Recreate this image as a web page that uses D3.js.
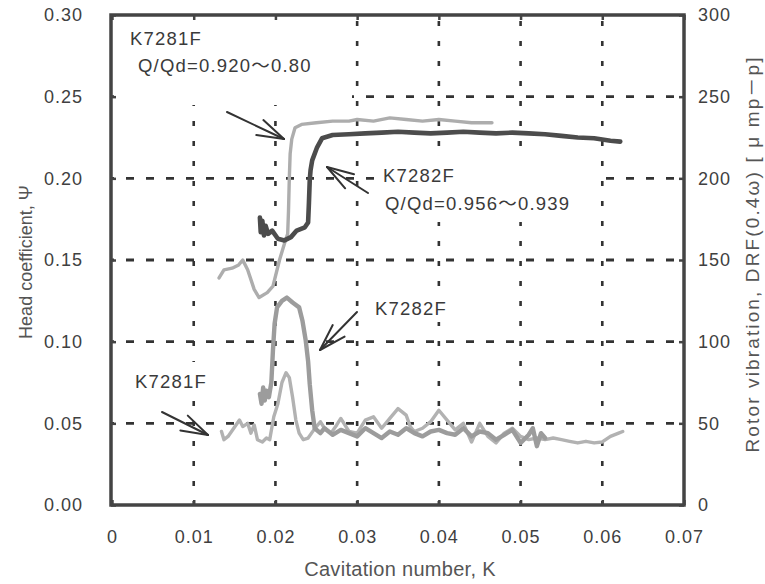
<!DOCTYPE html>
<html><head><meta charset="utf-8">
<script src="https://cdn.jsdelivr.net/npm/d3@7"></script>
<style>
html,body{margin:0;padding:0;background:#fff;}
svg{display:block;}
text{font-family:"Liberation Sans",Arial,"Noto Sans CJK JP",sans-serif;}
</style></head>
<body>
<svg id="chart" width="765" height="584"></svg>
<script>
// ---------- data ----------
const xTicks = [0, 0.01, 0.02, 0.03, 0.04, 0.05, 0.06, 0.07];
const xTickLabels = ["0", "0.01", "0.02", "0.03", "0.04", "0.05", "0.06", "0.07"];
const yLeftTicks = [0, 0.05, 0.10, 0.15, 0.20, 0.25, 0.30];
const yRightTicks = [0, 50, 100, 150, 200, 250, 300];

// Head coefficient psi vs cavitation number K
const headK7281F = [[0.0131,0.139],[0.0137,0.144],[0.0147,0.145],[0.0155,0.147],[0.0160,0.150],[0.0166,0.144],[0.0174,0.132],[0.0180,0.127],[0.0190,0.130],[0.0197,0.134],[0.0205,0.150],[0.0211,0.160],[0.0215,0.166],[0.0216,0.180],[0.0217,0.200],[0.0218,0.215],[0.0220,0.224],[0.0224,0.231],[0.0232,0.233],[0.0250,0.234],[0.0270,0.235],[0.0290,0.235],[0.0300,0.236],[0.0320,0.235],[0.0340,0.237],[0.0360,0.236],[0.0380,0.235],[0.0400,0.236],[0.0420,0.235],[0.0440,0.234],[0.0465,0.234]];
const headK7282F = [[0.0181,0.176],[0.0182,0.167],[0.0184,0.174],[0.0186,0.165],[0.0188,0.171],[0.0191,0.166],[0.0196,0.168],[0.0203,0.163],[0.0211,0.162],[0.0219,0.164],[0.0226,0.168],[0.0236,0.170],[0.0240,0.173],[0.0241,0.185],[0.0242,0.199],[0.0243,0.205],[0.0245,0.211],[0.0251,0.219],[0.0257,0.2245],[0.0270,0.2265],[0.0290,0.227],[0.0310,0.2275],[0.0330,0.228],[0.0350,0.2285],[0.0370,0.228],[0.0390,0.2275],[0.0410,0.228],[0.0430,0.2285],[0.0450,0.228],[0.0470,0.2275],[0.0490,0.228],[0.0510,0.2275],[0.0530,0.227],[0.0550,0.226],[0.0570,0.225],[0.0590,0.2245],[0.0610,0.223],[0.0622,0.2225]];

// Rotor vibration DRF(0.4ω) vs K
const vibK7281F = [[0.0134,45],[0.0137,40],[0.0142,42],[0.0149,47],[0.0156,52],[0.0160,48],[0.0166,50],[0.0170,44],[0.0174,49],[0.0178,40],[0.0184,38.6],[0.0189,41],[0.0193,40],[0.0198,54],[0.0203,62],[0.0208,75],[0.0213,81],[0.0217,78],[0.0221,66],[0.0225,52],[0.0229,44],[0.0234,40],[0.0240,41],[0.0247,46],[0.0255,51],[0.0260,47],[0.0268,44],[0.0275,49],[0.0280,53],[0.0290,45],[0.0300,44],[0.0310,52],[0.0320,54],[0.0330,47],[0.0340,53],[0.0350,59],[0.0360,55],[0.0365,48],[0.0370,45],[0.0380,47],[0.0390,51],[0.0400,58],[0.0410,52],[0.0420,46],[0.0430,50],[0.0440,38.6],[0.0450,50],[0.0460,42],[0.0470,38],[0.0480,44],[0.0490,47],[0.0500,42],[0.0510,40],[0.0520,41],[0.0530,40],[0.0540,41],[0.0550,40],[0.0560,39],[0.0570,38],[0.0580,39],[0.0590,38],[0.0600,38.6],[0.0610,42],[0.0620,44],[0.0625,45]];
const vibK7282F = [[0.0181,68],[0.0183,62],[0.0185,72],[0.0187,64],[0.0189,70],[0.0192,66],[0.0195,75],[0.0197,95],[0.0199,111],[0.0202,121],[0.0208,125],[0.0214,127],[0.0221,124],[0.0229,121],[0.0233,113],[0.0237,101],[0.0240,88],[0.0242,74],[0.0245,58],[0.0248,47],[0.0255,44],[0.0260,47],[0.0270,43],[0.0280,46],[0.0290,44],[0.0300,42],[0.0310,47],[0.0320,44],[0.0330,41],[0.0340,45],[0.0350,43],[0.0360,47],[0.0370,44],[0.0380,42],[0.0390,45],[0.0400,46],[0.0410,44],[0.0420,43],[0.0430,47],[0.0440,42],[0.0450,45],[0.0460,44],[0.0470,40],[0.0480,43],[0.0490,46],[0.0500,38],[0.0510,43],[0.0515,47],[0.0520,36],[0.0525,44],[0.0530,41]];

// ---------- layout ----------
const svg = d3.select("#chart");
const X0 = 112, X1 = 684, Y0 = 505, Y1 = 15;
const x = d3.scaleLinear().domain([0, 0.07]).range([X0, X1]);
const yL = d3.scaleLinear().domain([0, 0.30]).range([Y0, Y1]);
const yR = d3.scaleLinear().domain([0, 300]).range([Y0, Y1]);

// grid
const grid = svg.append("g").attr("stroke", "#333").attr("fill", "none");
grid.selectAll("line.h").data(yLeftTicks.filter(d => d > 0 && d < 0.30)).join("line")
  .attr("x1", X0).attr("x2", X1).attr("y1", d => yL(d)).attr("y2", d => yL(d))
  .attr("stroke-width", 2.8).attr("stroke-dasharray", "8,12").attr("stroke-dashoffset", -14);
grid.selectAll("line.v").data(xTicks.filter(d => d > 0 && d < 0.07)).join("line")
  .attr("x1", d => x(d)).attr("x2", d => x(d)).attr("y1", Y1).attr("y2", Y0)
  .attr("stroke-width", 2.6).attr("stroke-dasharray", "5,15").attr("stroke-dashoffset", -6);

// white label boxes hiding grid
const boxes = [[X0 + 2, Y1 + 2, 352, 105], [380, 158, 597, 222], [370, 290, 452, 322], [128, 362, 214, 400]];
svg.append("g").selectAll("rect").data(boxes).join("rect")
  .attr("x", d => d[0]).attr("y", d => d[1]).attr("width", d => d[2] - d[0]).attr("height", d => d[3] - d[1])
  .attr("fill", "#fff");

// axes
const tickFont = g => g.selectAll("text").attr("font-size", 18).attr("fill", "#404040")
  .attr("letter-spacing", 1).attr("font-family", "'Liberation Sans', Arial, sans-serif");
const axB = svg.append("g").attr("transform", `translate(0,${Y0})`)
  .call(d3.axisBottom(x).tickValues(xTicks).tickFormat((d, i) => xTickLabels[i]).tickSize(-5).tickPadding(25));
const axL = svg.append("g").attr("transform", `translate(${X0 - 1},0)`)
  .call(d3.axisLeft(yL).tickValues(yLeftTicks).tickFormat(d3.format(".2f")).tickSize(-5).tickPadding(28));
const axR = svg.append("g").attr("transform", `translate(${X1},0)`)
  .call(d3.axisRight(yR).tickValues(yRightTicks).tickFormat(d3.format("d")).tickSize(-5).tickPadding(14));
const axT = svg.append("g").attr("transform", `translate(0,${Y1})`)
  .call(d3.axisTop(x).tickValues(xTicks).tickFormat("").tickSize(-5));
[axB, axL, axR, axT].forEach(a => {
  a.select(".domain").remove();
  a.selectAll("line").attr("stroke", "#444").attr("stroke-width", 2.5);
  tickFont(a);
});
axB.selectAll("text").attr("dy", "0.71em");

// frame
svg.append("rect").attr("x", X0 - 1).attr("y", Y1).attr("width", X1 - X0 + 1).attr("height", Y0 - Y1)
  .attr("fill", "none").attr("stroke", "#444").attr("stroke-width", 3.5);

// curves
const lineL = d3.line().x(d => x(d[0])).y(d => yL(d[1]));
const lineR = d3.line().x(d => x(d[0])).y(d => yR(d[1]));
const curves = svg.append("g").attr("fill", "none").attr("stroke-linejoin", "round").attr("stroke-linecap", "round");
curves.append("path").datum(vibK7281F).attr("d", lineR).attr("stroke", "#b2b2b2").attr("stroke-width", 3.4);
curves.append("path").datum(vibK7282F).attr("d", lineR).attr("stroke", "#9c9c9c").attr("stroke-width", 4.4);
curves.append("path").datum(headK7281F).attr("d", lineL).attr("stroke", "#adadad").attr("stroke-width", 3.4);
curves.append("path").datum(headK7282F).attr("d", lineL).attr("stroke", "#4c4c4c").attr("stroke-width", 4.6);

// annotations
const ann = svg.append("g").attr("fill", "#3a3a3a").attr("font-size", 18.5).attr("letter-spacing", 1.2);
const labels = [
  ["K7281F", 130, 45], ["Q/Qd=0.920～0.80", 138, 72],
  ["K7282F", 383, 182], ["Q/Qd=0.956～0.939", 385, 210],
  ["K7282F", 375, 315], ["K7281F", 135, 388]
];
ann.selectAll("text").data(labels).join("text").attr("x", d => d[1]).attr("y", d => d[2]).text(d => d[0]);

// arrows
const arrows = [[227, 112, 284, 139], [368, 193, 327, 167], [357, 312, 320, 350], [162, 412, 208, 435]];
const ag = svg.append("g").attr("stroke", "#333").attr("stroke-width", 2).attr("fill", "none").attr("stroke-linecap", "round");
arrows.forEach(([x1, y1, x2, y2]) => {
  const ang = Math.atan2(y2 - y1, x2 - x1), L = 28, s = 0.3;
  ag.append("line").attr("x1", x1).attr("y1", y1).attr("x2", x2).attr("y2", y2);
  [s, -s].forEach(o => {
    ag.append("line").attr("x1", x2 - L * Math.cos(ang + o)).attr("y1", y2 - L * Math.sin(ang + o))
      .attr("x2", x2).attr("y2", y2);
  });
});

// axis titles
svg.append("text").attr("transform", "translate(32,262) rotate(-90)").attr("text-anchor", "middle")
  .attr("font-size", 18).attr("fill", "#555").text("Head coefficient,  Ψ");
svg.append("text").attr("transform", "translate(400,576)").attr("text-anchor", "middle")
  .attr("font-size", 20).attr("fill", "#555").attr("letter-spacing", 0.3).text("Cavitation number, K");
svg.append("text").attr("transform", "translate(759,255) rotate(-90)").attr("text-anchor", "middle")
  .attr("font-size", 19).attr("fill", "#555").attr("textLength", 395).attr("lengthAdjust", "spacing")
  .text("Rotor vibration, DRF(0.4ω) [ μ mp－p]");
</script>
</body></html>
